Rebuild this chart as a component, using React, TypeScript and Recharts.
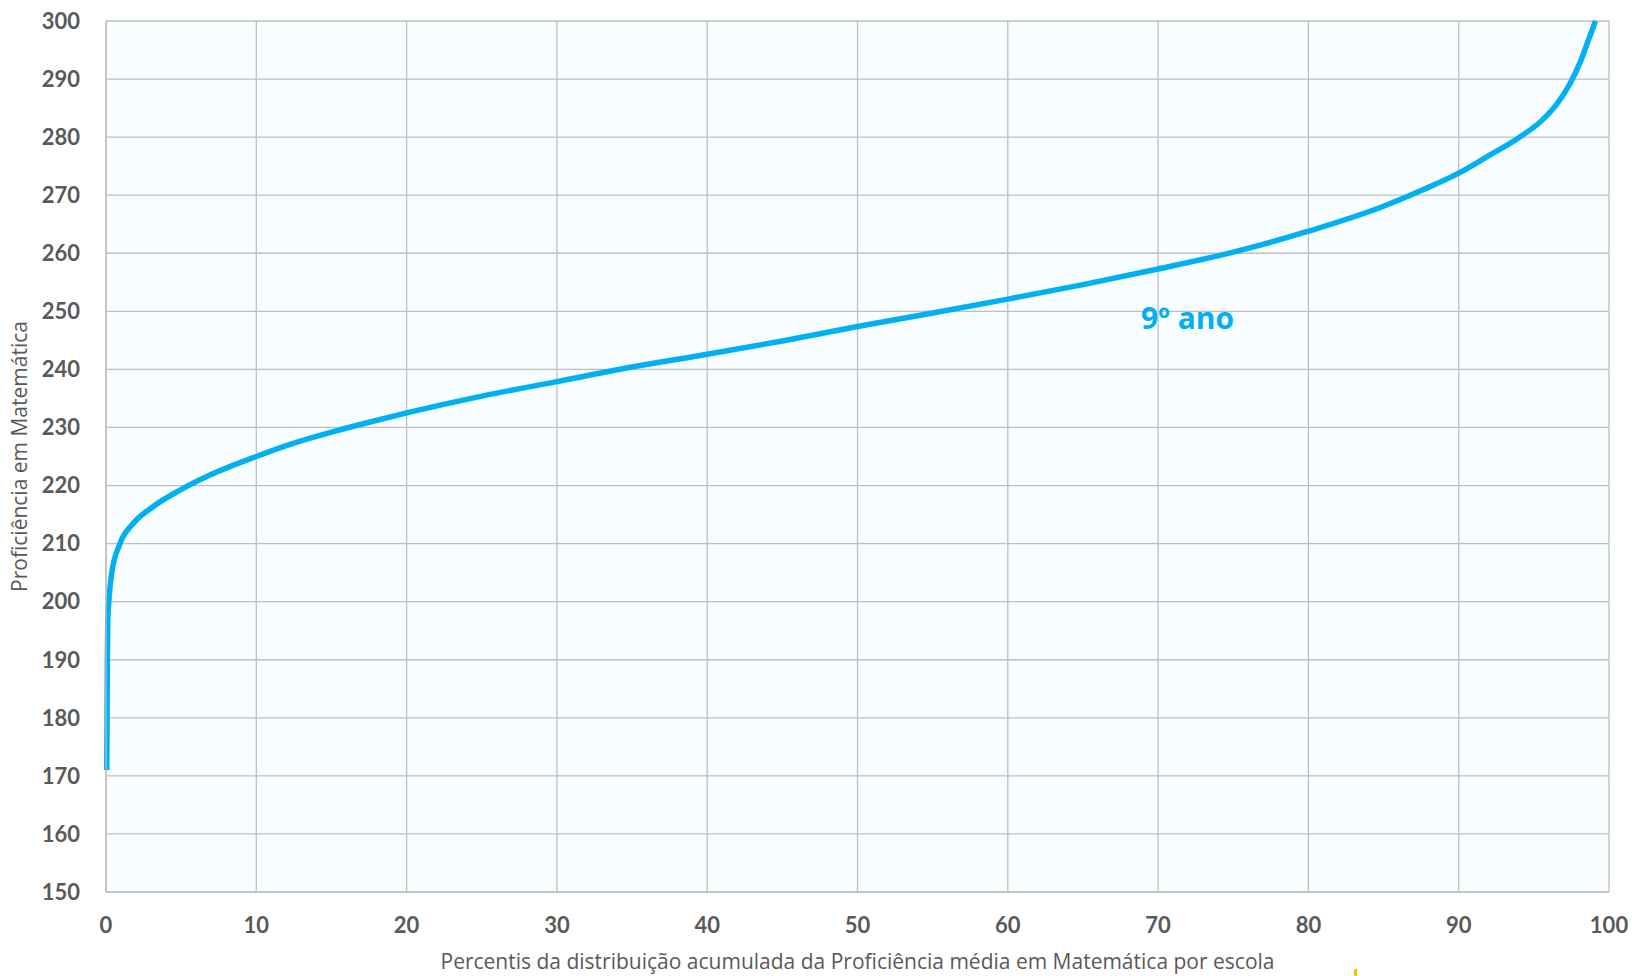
import { LineChart, Line, XAxis, YAxis, CartesianGrid, ReferenceDot } from 'recharts';

// percentil (x) e proficiência média (y)
const percentis = [0.05, 0.07, 0.09, 0.12, 0.2, 0.38, 0.93, 1.82, 3.15, 4.92, 6.92, 10, 12.5, 15, 17.5, 20, 25, 30, 35, 40, 45, 50, 55, 60, 65, 70, 75, 80, 85, 87.5, 90, 92, 94, 95.5, 96.5, 97.4, 98.1, 98.6, 99.1];
const proficiencia = [171, 180, 190, 197, 200.5, 204.9, 210, 213.5, 216.4, 219.2, 221.8, 225, 227.3, 229.2, 230.9, 232.5, 235.4, 237.9, 240.4, 242.6, 244.9, 247.4, 249.7, 252.1, 254.6, 257.3, 260.2, 263.8, 268.1, 270.8, 273.8, 276.8, 279.9, 282.8, 285.6, 289.2, 293, 296.5, 300];

const xTicks = [0, 10, 20, 30, 40, 50, 60, 70, 80, 90, 100];
const yTicks = [150, 160, 170, 180, 190, 200, 210, 220, 230, 240, 250, 260, 270, 280, 290, 300];

const serieNome = '9º ano';
const xTitulo = 'Percentis da distribuição acumulada da Proficiência média em Matemática por escola';
const yTitulo = 'Proficiência em Matemática';

const data = percentis.map((p, i) => ({ p, v: proficiencia[i] }));

const FONT = 'Lato, "Open Sans", sans-serif';
const TITLE_FONT = '"Open Sans", sans-serif';
const GRAY = '#595959';
const BLUE = '#00B0F0';

export default function App() {
  return (
    <div style={{ position: 'absolute', left: 0, top: 0, width: 1632, height: 976, background: '#fff', fontFamily: FONT }}>
      <LineChart width={1632} height={976} data={data} margin={{ top: 21, right: 23, bottom: 0, left: 0 }}>
        <CartesianGrid stroke="#BFBFBF" strokeWidth={1.3} fill="#F8FDFF" fillOpacity={1} />
        <XAxis
          dataKey="p"
          type="number"
          domain={[0, 100]}
          ticks={xTicks}
          interval={0}
          height={84}
          tickSize={0}
          tickMargin={25}
          axisLine={{ stroke: '#BFBFBF', strokeWidth: 1.3 }}
          tick={{ fill: GRAY, fontSize: 22, fontWeight: 700, fontFamily: FONT }}
          label={{ value: xTitulo, position: 'insideBottom', offset: 7, fill: GRAY, fontSize: 21, fontFamily: TITLE_FONT }}
        />
        <YAxis
          type="number"
          domain={[150, 300]}
          ticks={yTicks}
          interval={0}
          width={106}
          tickSize={0}
          tickMargin={26}
          axisLine={{ stroke: '#BFBFBF', strokeWidth: 1.3 }}
          tick={{ fill: GRAY, fontSize: 22, fontWeight: 700, fontFamily: FONT }}
          label={{ value: yTitulo, angle: -90, position: 'insideLeft', offset: 20, fill: GRAY, fontSize: 21, fontFamily: TITLE_FONT, style: { textAnchor: 'middle' } }}
        />
        <Line
          dataKey="v"
          type="monotone"
          stroke={BLUE}
          strokeWidth={5.5}
          dot={false}
          activeDot={false}
          isAnimationActive={false}
        />
        <ReferenceDot
          x={68.8}
          y={248.8}
          r={1}
          fill="none"
          stroke="none"
          label={{ value: serieNome, position: 'right', offset: 0, fill: BLUE, fontSize: 30, fontWeight: 700, fontFamily: TITLE_FONT }}
        />
      </LineChart>
      <div style={{ position: 'absolute', left: 1354, top: 969, width: 3, height: 7, background: '#FFC000' }} />
    </div>
  );
}
